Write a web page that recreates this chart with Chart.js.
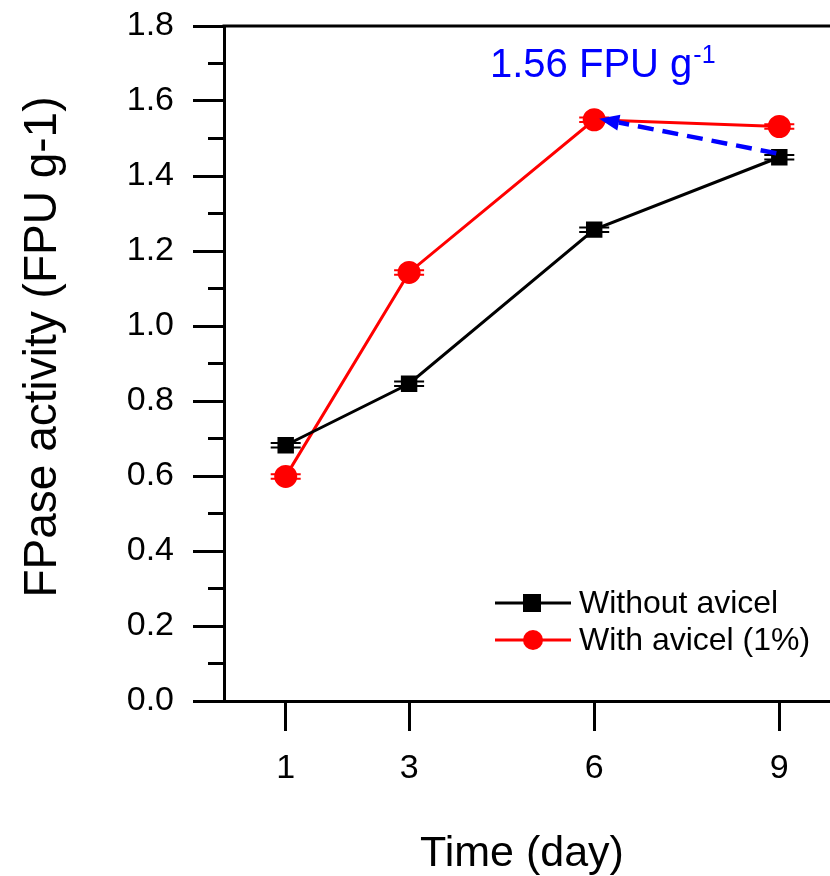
<!DOCTYPE html>
<html>
<head>
<meta charset="utf-8">
<script src="https://cdn.jsdelivr.net/npm/chart.js@4.4.1/dist/chart.umd.min.js"></script>
<style>
html,body{margin:0;padding:0;overflow:hidden;background:#fff;}
#wrap{width:880px;height:876px;position:relative;}
</style>
</head>
<body>
<div id="wrap"><canvas id="c"></canvas></div>
<script>
const days = [1, 3, 6, 9];
const withoutAvicel = [0.682, 0.846, 1.257, 1.450];
const withAvicel = [0.599, 1.143, 1.550, 1.532];
const errWithout = [0.006, 0.006, 0.006, 0.006];
const errWith = [0.006, 0.006, 0.006, 0.006];
const yTicks = [0.0, 0.2, 0.4, 0.6, 0.8, 1.0, 1.2, 1.4, 1.6, 1.8];
const seriesNames = ['Without avicel', 'With avicel (1%)'];
const annotationText = '1.56 FPU g';
const annotationSup = '-1';
const xTitle = 'Time (day)';
const yTitle = 'FPase activity (FPU g-1)';

const FONT = "'Liberation Sans', Arial, Helvetica, sans-serif";

const extras = {
  id: 'extras',
  beforeDatasetsDraw(chart) {
    const ctx = chart.ctx, x = chart.scales.x, y = chart.scales.y, ca = chart.chartArea;
    ctx.save();
    // top frame line
    ctx.strokeStyle = '#000'; ctx.lineWidth = 3;
    ctx.beginPath(); ctx.moveTo(ca.left - 1.5, ca.top); ctx.lineTo(chart.width, ca.top); ctx.stroke();
    // minor ticks on y
    for (let i = 0; i < yTicks.length - 1; i++) {
      const v = (yTicks[i] + yTicks[i + 1]) / 2;
      const py = y.getPixelForValue(v);
      ctx.beginPath(); ctx.moveTo(ca.left, py); ctx.lineTo(ca.left - 16, py); ctx.stroke();
    }
    // error bars
    const sets = [[withoutAvicel, errWithout, '#000'], [withAvicel, errWith, '#ff0000']];
    sets.forEach(([vals, errs, col]) => {
      ctx.strokeStyle = col; ctx.lineWidth = 2;
      vals.forEach((v, i) => {
        const px = x.getPixelForValue(days[i]);
        const p1 = y.getPixelForValue(v + errs[i]);
        const p2 = y.getPixelForValue(v - errs[i]);
        ctx.beginPath();
        ctx.moveTo(px, p1); ctx.lineTo(px, p2);
        ctx.moveTo(px - 15, p1); ctx.lineTo(px + 15, p1);
        ctx.moveTo(px - 15, p2); ctx.lineTo(px + 15, p2);
        ctx.stroke();
      });
    });
    // axis titles
    ctx.fillStyle = '#000';
    ctx.textAlign = 'center'; ctx.textBaseline = 'alphabetic';
    ctx.font = '43px ' + FONT;
    ctx.fillText(xTitle, 522, 866);
    ctx.save();
    ctx.translate(56, 347);
    ctx.rotate(-Math.PI / 2);
    ctx.font = '46px ' + FONT;
    ctx.fillText(yTitle, 0, 0);
    ctx.restore();
    ctx.restore();
  },
  afterDatasetsDraw(chart) {
    const ctx = chart.ctx, x = chart.scales.x, y = chart.scales.y;
    ctx.save();
    // dashed arrow from black point at day 9 to red point at day 6
    const sx = x.getPixelForValue(days[3]) - 3, sy = y.getPixelForValue(withoutAvicel[3]) - 4;
    const tx = x.getPixelForValue(days[2]) + 5, ty = y.getPixelForValue(withAvicel[2]) - 1;
    const ang = Math.atan2(ty - sy, tx - sx);
    const headLen = 20, headW = 8;
    const bx = tx - headLen * Math.cos(ang), by = ty - headLen * Math.sin(ang);
    ctx.strokeStyle = '#0000ff'; ctx.fillStyle = '#0000ff'; ctx.lineWidth = 4.5;
    ctx.setLineDash([16, 9]);
    ctx.beginPath(); ctx.moveTo(sx, sy); ctx.lineTo(bx, by); ctx.stroke();
    ctx.setLineDash([]);
    ctx.beginPath();
    ctx.moveTo(tx, ty);
    ctx.lineTo(bx + headW * Math.sin(ang), by - headW * Math.cos(ang));
    ctx.lineTo(bx - headW * Math.sin(ang), by + headW * Math.cos(ang));
    ctx.closePath(); ctx.fill();
    // annotation text
    ctx.fillStyle = '#0000ff';
    ctx.textBaseline = 'alphabetic'; ctx.textAlign = 'left';
    ctx.font = '40px ' + FONT;
    ctx.fillText(annotationText, 490, 77);
    const w = ctx.measureText(annotationText).width;
    ctx.font = '25px ' + FONT;
    ctx.fillText(annotationSup, 490 + w + 1, 63);
    // legend
    const rows = [[seriesNames[0], '#000', 'rect', 603], [seriesNames[1], '#ff0000', 'circle', 640]];
    rows.forEach(([label, col, shape, ry]) => {
      ctx.strokeStyle = col; ctx.fillStyle = col; ctx.lineWidth = 3;
      ctx.beginPath(); ctx.moveTo(495, ry); ctx.lineTo(571, ry); ctx.stroke();
      if (shape === 'rect') { ctx.fillRect(532 - 9, ry - 9, 18, 18); }
      else { ctx.beginPath(); ctx.arc(533, ry, 10, 0, Math.PI * 2); ctx.fill(); }
      ctx.fillStyle = '#000';
      ctx.font = '32px ' + FONT;
      ctx.textBaseline = 'middle';
      ctx.fillText(label, 579, ry + 1);
    });
    ctx.restore();
  }
};

new Chart(document.getElementById('c'), {
  type: 'line',
  data: {
    datasets: [
      {
        label: seriesNames[0],
        data: days.map((d, i) => ({x: d, y: withoutAvicel[i]})),
        borderColor: '#000', backgroundColor: '#000', borderWidth: 3,
        pointStyle: 'rect', pointRadius: 9.5, pointHoverRadius: 9.5,
        tension: 0
      },
      {
        label: seriesNames[1],
        data: days.map((d, i) => ({x: d, y: withAvicel[i]})),
        borderColor: '#ff0000', backgroundColor: '#ff0000', borderWidth: 3,
        pointStyle: 'circle', pointRadius: 10, pointHoverRadius: 10,
        tension: 0
      }
    ]
  },
  options: {
    responsive: true,
    maintainAspectRatio: false,
    animation: false,
    events: [],
    layout: {padding: {top: 26, right: 39, left: 0, bottom: 0}},
    plugins: {legend: {display: false}, tooltip: {enabled: false}},
    scales: {
      x: {
        type: 'linear', min: 0, max: 10,
        afterBuildTicks(s) { s.ticks = days.map(v => ({value: v})); },
        afterFit(s) { s.height = 175; s.paddingLeft = 0; s.paddingRight = 0; },
        grid: {drawOnChartArea: false, tickLength: 30, tickWidth: 3, tickColor: '#000'},
        border: {display: true, color: '#000', width: 3},
        ticks: {color: '#000', font: {family: FONT, size: 34}, padding: 17, maxRotation: 0, callback: v => String(v)},
        title: {display: false}
      },
      y: {
        type: 'linear', min: 0, max: 1.8,
        afterBuildTicks(s) { s.ticks = yTicks.map(v => ({value: v})); },
        afterFit(s) { s.width = 224; s.paddingTop = 0; s.paddingBottom = 0; },
        grid: {drawOnChartArea: false, tickLength: 31, tickWidth: 3, tickColor: '#000'},
        border: {display: true, color: '#000', width: 3},
        ticks: {color: '#000', font: {family: FONT, size: 34}, padding: 19, callback: v => Number(v).toFixed(1)},
        title: {display: false}
      }
    }
  },
  plugins: [extras]
});
</script>
</body>
</html>
